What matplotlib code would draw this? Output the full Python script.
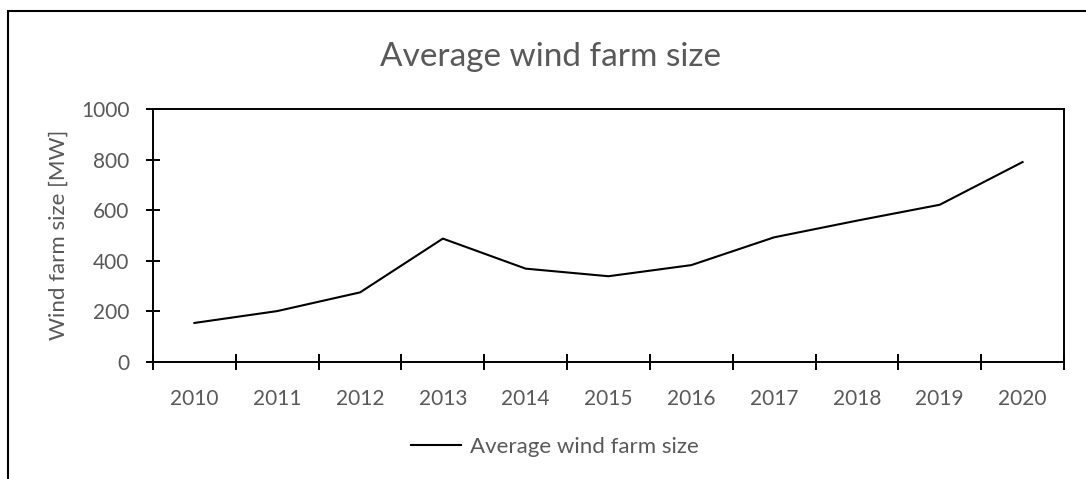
import matplotlib.pyplot as plt
from matplotlib.patches import Rectangle
from matplotlib.lines import Line2D
import numpy as np

plt.rcParams['font.family'] = ['Lato', 'DejaVu Sans']

# Average wind farm size per year (MW)
years = [2010, 2011, 2012, 2013, 2014, 2015, 2016, 2017, 2018, 2019, 2020]
avg_size = [153, 200, 274, 487, 368, 338, 382, 492, 558, 621, 790]
y_ticks = [0, 200, 400, 600, 800, 1000]

grey = '#595959'

fig = plt.figure(figsize=(10.86, 4.79), dpi=100)
ax = fig.add_axes([0.1409, 0.2451, 0.8388, 0.5273])

ax.plot(years, avg_size, color='black', linewidth=1.5)

ax.set_xlim(years[0] - 0.5, years[-1] + 0.5)
ax.set_ylim(0, 1000)
ax.set_yticks(y_ticks)
ax.set_xticks(years)
ax.set_xticks(np.arange(years[0] - 0.5, years[-1] + 1, 1.0), minor=True)

ax.tick_params(axis='x', which='major', length=0, pad=20, labelsize=15, labelcolor=grey)
ax.tick_params(axis='x', which='minor', direction='inout', length=11, width=1.4, color='black')
ax.tick_params(axis='y', direction='inout', length=10, width=1.4, pad=12, labelsize=15, labelcolor=grey)

for s in ax.spines.values():
    s.set_linewidth(1.4)
    s.set_color('black')

ax.set_ylabel('Wind farm size [MW]', fontsize=16, color=grey, labelpad=9)

fig.text(0.507, 0.88, 'Average wind farm size', ha='center', va='center',
         fontsize=24, color=grey)

# legend drawn below the axes
handle = Line2D([], [], color='black', linewidth=1.5)
fig.legend([handle], ['Average wind farm size'], loc='center',
           bbox_to_anchor=(0.511, 0.0675), frameon=False, fontsize=16,
           labelcolor=grey, handlelength=2.25, handletextpad=0.4)

# chart area border (runs off the right and bottom edges)
fig.add_artist(Rectangle((8 / 1086, -0.05), 1.1, 1.05 - 10.5 / 479,
                         transform=fig.transFigure, fill=False,
                         edgecolor='black', linewidth=1.5))

fig.savefig('out.png', dpi=100)
